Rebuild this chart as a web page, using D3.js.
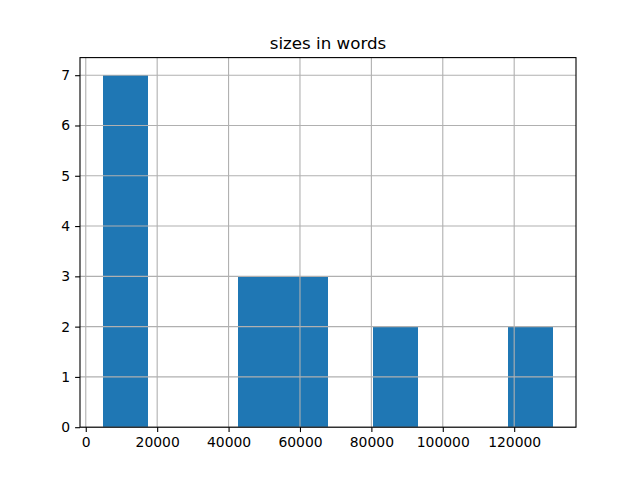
<!DOCTYPE html>
<html>
<head>
<meta charset="utf-8">
<script src="https://cdn.jsdelivr.net/npm/d3@7"></script>
<style>
body { margin: 0; background: #fff; }
text { font-family: "DejaVu Sans", sans-serif; }
</style>
</head>
<body>
<div id="chart"></div>
<script>
// histogram of document sizes, 10 bins
var binEdges = [4700, 17330, 29960, 42590, 55220, 67850, 80480, 93110, 105740, 118370, 131000];
var binCounts = [7, 0, 0, 3, 3, 0, 2, 0, 0, 2];
var xTicks = [0, 20000, 40000, 60000, 80000, 100000, 120000];
var yTicks = [0, 1, 2, 3, 4, 5, 6, 7];
var title = "sizes in words";

var width = 640, height = 480;
var axLeft = 80, axRight = 576, axTop = 57.6, axBottom = 427.2;

var svg = d3.select("#chart").append("svg")
	.attr("width", width)
	.attr("height", height);

var lo = binEdges[0], hi = binEdges[binEdges.length - 1];
var pad = (hi - lo) * 0.05;
var x = d3.scaleLinear().domain([lo - pad, hi + pad]).range([axLeft, axRight]);
var y = d3.scaleLinear().domain([0, d3.max(binCounts) * 1.05]).range([axBottom, axTop]);

var bins = binCounts.map(function(c, i) { return {x0: binEdges[i], x1: binEdges[i + 1], n: c}; });

svg.append("g").selectAll("rect")
	.data(bins.filter(function(d) { return d.n > 0; }))
	.enter().append("rect")
	.attr("x", function(d) { return x(d.x0); })
	.attr("width", function(d) { return x(d.x1) - x(d.x0); })
	.attr("y", function(d) { return y(d.n); })
	.attr("height", function(d) { return y(0) - y(d.n); })
	.attr("shape-rendering", "crispEdges")
	.style("fill", "#1f77b4");

// grid over the bars, like pandas hist
var grid = svg.append("g").style("stroke", "#b0b0b0").style("stroke-width", 1.1);
grid.selectAll(".gx").data(xTicks).enter().append("line")
	.attr("x1", function(d) { return x(d); }).attr("x2", function(d) { return x(d); })
	.attr("y1", axTop).attr("y2", axBottom);
grid.selectAll(".gy").data(yTicks).enter().append("line")
	.attr("x1", axLeft).attr("x2", axRight)
	.attr("y1", function(d) { return y(d); }).attr("y2", function(d) { return y(d); });

var xAxis = svg.append("g")
	.attr("transform", "translate(0," + axBottom + ")")
	.call(d3.axisBottom(x).tickValues(xTicks).tickFormat(d3.format("d")).tickSize(4.9).tickPadding(5));
var yAxis = svg.append("g")
	.attr("transform", "translate(" + axLeft + ",0)")
	.call(d3.axisLeft(y).tickValues(yTicks).tickFormat(d3.format("d")).tickSize(4.9).tickPadding(4.9));

[xAxis, yAxis].forEach(function(a) {
	a.select(".domain").remove();
	a.selectAll("line").style("stroke", "#000").style("stroke-width", 1.1);
	a.selectAll("text").style("font-size", "13.9px").style("fill", "#000")
		.style("font-family", "'DejaVu Sans', sans-serif");
});

svg.append("rect")
	.attr("x", axLeft).attr("y", axTop)
	.attr("width", axRight - axLeft).attr("height", axBottom - axTop)
	.style("fill", "none").style("stroke", "#000").style("stroke-width", 1.1);

svg.append("text")
	.attr("x", (axLeft + axRight) / 2)
	.attr("y", axTop - 8.3)
	.style("text-anchor", "middle")
	.style("font-size", "16.7px")
	.text(title);
</script>
</body>
</html>
